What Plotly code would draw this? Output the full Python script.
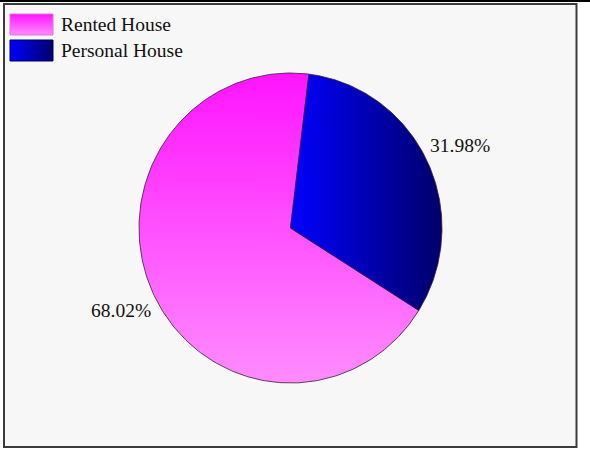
import numpy as np
import plotly.graph_objects as go

# Housing tenure shares (percent)
categories = ["Rented House", "Personal House"]
shares = [68.02, 31.98]
label_text = ["68.02%", "31.98%"]

# Gradient fills per category: (gradient type, colour at low end, colour at high end)
gradients = {
    "Rented House": ("vertical", "#ff8cff", "#ff14ff"),
    "Personal House": ("horizontal", "#0000ff", "#00006a"),
}

W, H = 590, 450
CX, CY = 290.5, 228.0                # pie centre in pixels
RX, RY = 151.5, 155.0                # horizontal / vertical radius in pixels
START_DEG = 7.0                      # slice boundary measured clockwise from 12 o'clock
LABEL_R = 1.24                       # label distance as a multiple of the radius
FONT = "Liberation Serif, Times New Roman, serif"


def px_to_data(px, py):
    return (np.asarray(px, float) - CX) / RX, (CY - np.asarray(py, float)) / RY


fig = go.Figure()

# Slices laid out counter-clockwise from the start angle, in list order
total = float(sum(shares))
angle = START_DEG
for name, value, txt in zip(categories, shares, label_text):
    span = value / total * 360.0
    theta = np.radians(np.linspace(angle, angle - span, 240))
    xs = np.concatenate([[0.0], np.sin(theta), [0.0]])
    ys = np.concatenate([[0.0], np.cos(theta), [0.0]])
    gtype, c0, c1 = gradients[name]
    fig.add_trace(go.Scatter(
        x=xs, y=ys, mode="lines", fill="toself",
        fillgradient=dict(type=gtype, colorscale=[[0, c0], [1, c1]]),
        line=dict(color="#3a1a3a", width=0.8),
        name=name, showlegend=False, hoverinfo="name",
    ))
    mid = np.radians(angle - span / 2.0)
    fig.add_annotation(
        x=LABEL_R * np.sin(mid), y=LABEL_R * np.cos(mid), text=txt,
        showarrow=False, xanchor="center", yanchor="middle",
        font=dict(family=FONT, size=19.5, color="#111111"),
    )
    angle -= span

# Legend: gradient swatches with category names
legend_rows = [(14, 35, "#d878d8"), (40, 61, "#00005a")]
for name, (top, bottom, edge) in zip(categories, legend_rows):
    sx, sy = px_to_data([10, 53, 53, 10, 10], [top, top, bottom, bottom, top])
    gtype, c0, c1 = gradients[name]
    fig.add_trace(go.Scatter(
        x=sx, y=sy, mode="lines", fill="toself",
        fillgradient=dict(type=gtype, colorscale=[[0, c0], [1, c1]]),
        line=dict(color=edge, width=1),
        showlegend=False, hoverinfo="skip",
    ))
    fig.add_annotation(
        x=59 / W, y=1 - ((top + bottom) / 2.0) / H, xref="paper", yref="paper",
        text=name, showarrow=False, xanchor="left", yanchor="middle",
        font=dict(family=FONT, size=19.5, color="#111111"),
    )

# Panel frame and the rule above it
fig.add_shape(type="rect", xref="paper", yref="paper", layer="below",
              x0=4 / W, x1=576.5 / W, y0=1 - 447 / H, y1=1 - 4 / H,
              fillcolor="#f7f7f7", line=dict(color="#3c3c3c", width=2))
fig.add_shape(type="line", xref="paper", yref="paper",
              x0=0, x1=1, y0=1 - 1 / H, y1=1 - 1 / H,
              line=dict(color="#000000", width=2))

x0, _ = px_to_data(0, 0)
x1, _ = px_to_data(W, 0)
_, y1 = px_to_data(0, 0)
_, y0 = px_to_data(0, H)

fig.update_layout(
    width=W, height=H,
    margin=dict(l=0, r=0, t=0, b=0),
    paper_bgcolor="#ffffff",
    plot_bgcolor="rgba(0,0,0,0)",
    xaxis=dict(range=[float(x0), float(x1)], visible=False, fixedrange=True),
    yaxis=dict(range=[float(y0), float(y1)], visible=False, fixedrange=True),
    showlegend=False,
)

fig.write_html("out.html")
